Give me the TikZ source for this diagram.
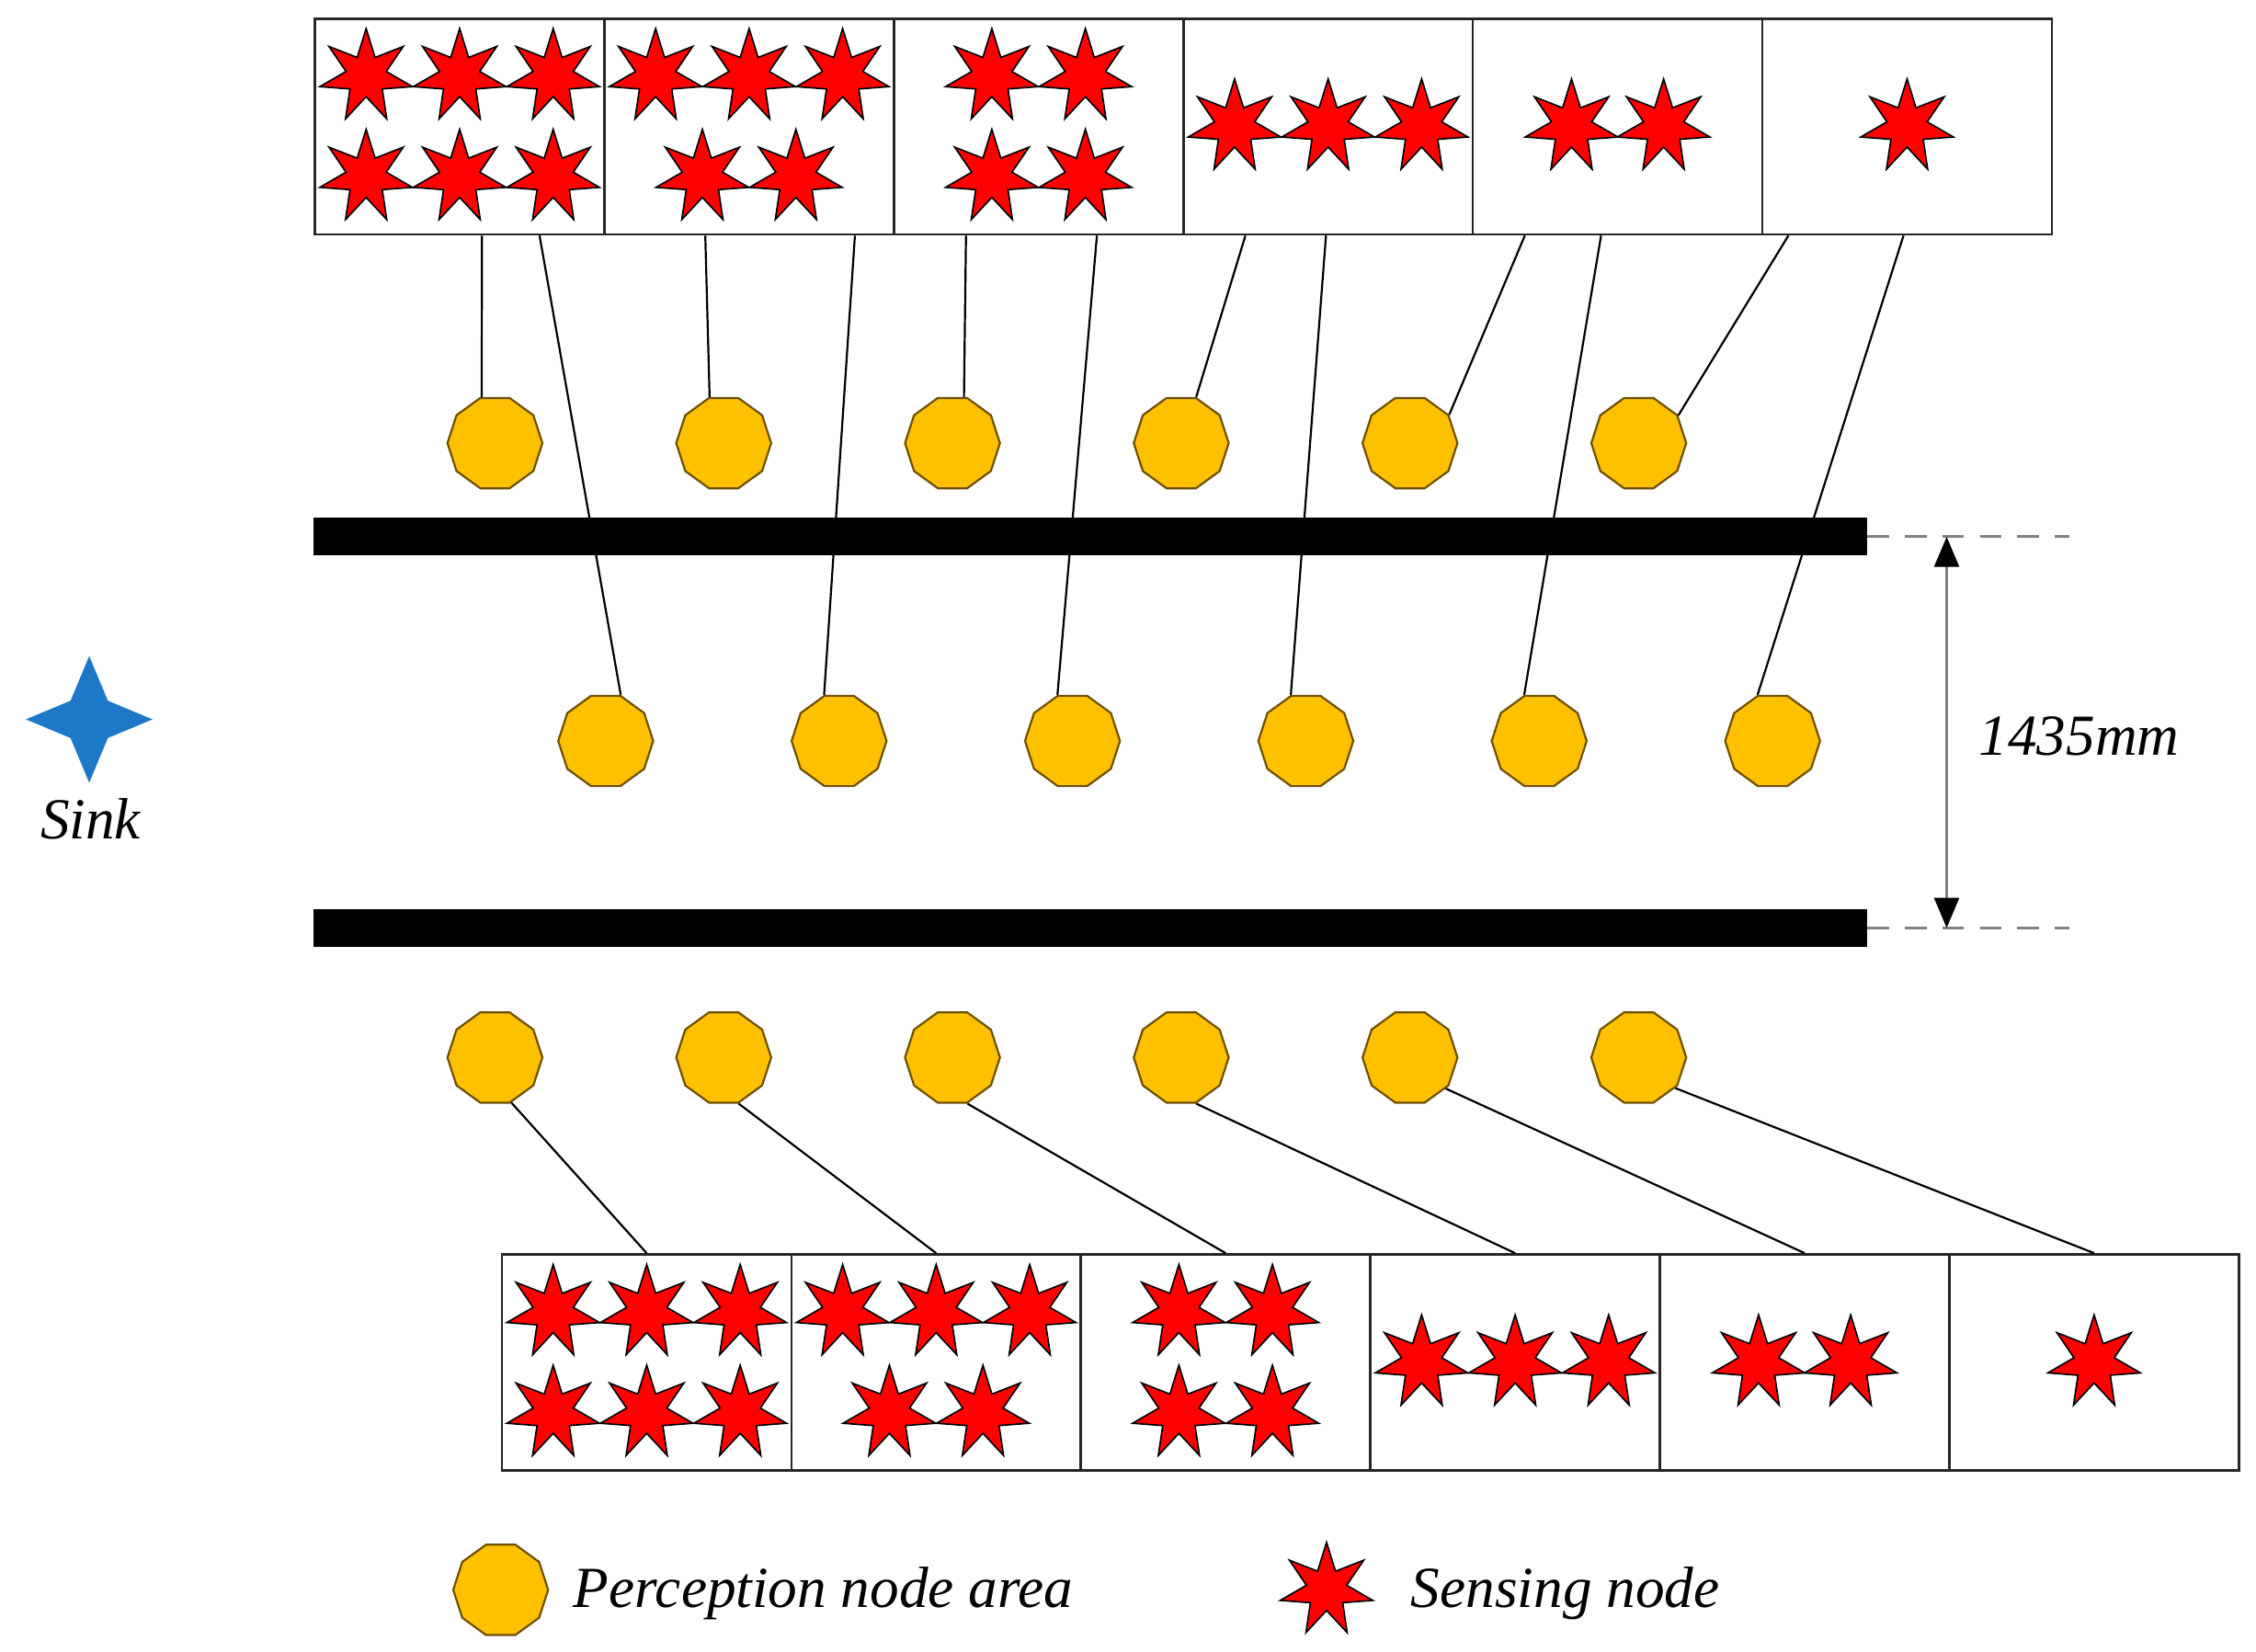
\documentclass[tikz,border=0pt]{standalone}
\usepackage{fontspec}
\setmainfont{Liberation Serif}
\usetikzlibrary{arrows.meta,shapes.geometric}
\definecolor{corange}{RGB}{255,192,0}
\definecolor{cbrun}{RGB}{110,80,0}
\definecolor{crouge}{RGB}{255,0,0}
\definecolor{cbleu}{RGB}{30,120,200}
\definecolor{cgris}{RGB}{128,128,128}
\tikzset{
  boite/.style={draw=black!85, line width=0.5pt, minimum width=20.12mm, minimum height=15mm,
    inner sep=0pt, anchor=north west},
  zone/.style={regular polygon, regular polygon sides=10, minimum size=6.6mm, inner sep=0pt,
    fill=corange, draw=cbrun, line width=0.4pt},
  capteur/.style={star, star points=7, star point ratio=2.3, minimum size=6.6mm, inner sep=0pt,
    fill=crouge, draw=black, line width=0.3pt},
  puits/.style={star, star points=4, star point ratio=2.4, minimum size=8.8mm, inner sep=0pt,
    fill=cbleu},
  lien/.style={black, line width=0.4pt},
  texte/.style={font=\fontsize{11.5}{14}\selectfont\itshape, inner sep=0pt}
}
\begin{document}
\begin{tikzpicture}[x=0.1mm, y=-0.1mm]
\useasboundingbox (0,0) rectangle (1568,1148);
\foreach \i in {1,...,6} {
  \node[boite] (t\i) at ({218+201.2*(\i-1)},12) {};
  \node[boite] (b\i) at ({348+201.2*(\i-1)},871) {};
}
\foreach \r in {t,b}
  \foreach \k/\dx/\dy [count=\n] in {1/-65/-35,1/0/-35,1/65/-35,1/-65/35,1/0/35,1/65/35,
      2/-65/-35,2/0/-35,2/65/-35,2/-32.5/35,2/32.5/35,
      3/-32.5/-35,3/32.5/-35,3/-32.5/35,3/32.5/35,
      4/-65/0,4/0/0,4/65/0,5/-32/0,5/32/0,6/0/0}
    \node[capteur] (\r s\n) at ([shift={(\dx,\dy)}]\r\k.center) {};
\foreach \i in {1,...,6} {
  \node[zone] (u\i) at ({344+159*(\i-1)},308) {};
  \node[zone] (m\i) at ({421+162.2*(\i-1)},515) {};
  \node[zone] (l\i) at ({344+159*(\i-1)},735) {};
}
\foreach \i/\a/\pa/\b/\pb in {1/117/106/157/72,2/71/107/175/108,3/51/76/142/108,
    4/44/72/100/108,5/37/36/90/108,6/19/35/99/108}
  \draw[lien] ([shift={(\a,0)}]t\i.south west) -- (u\i.\pa)
              ([shift={(\b,0)}]t\i.south west) -- (m\i.\pb);
\foreach \i/\pa in {1/-70,2/-72,3/-72,4/-72,5/-41,6/-40}
  \draw[lien] (l\i.\pa) -- (b\i.north);
\fill (218,360) rectangle (1298,386);
\fill (218,632) rectangle (1298,658);
\coordinate (c1) at (1353,373); \coordinate (c2) at (1353,645);
\draw[cgris, line width=0.5pt, dash pattern=on 1.5mm off 1.1mm] (1298,373) -- (1438,373);
\draw[cgris, line width=0.5pt, dash pattern=on 1.5mm off 1.1mm] (1298,645) -- (1438,645);
\draw[cgris, line width=0.7pt, {Triangle[length=2.1mm,width=1.7mm,color=black]}-{Triangle[length=2.1mm,width=1.7mm,color=black]}] (c1) -- (c2);
\node[texte, anchor=base] (ecart) at (1445,525) {1435mm};
\node[puits] (sink) at (62,500) {};
\node[texte, anchor=base] (lsink) at (63,583) {Sink};
\node[zone] (legz) at (348,1105) {};
\node[texte, anchor=base west] (legzt) at (398,1117) {Perception node area};
\node[capteur] (legs) at (922,1105) {};
\node[texte, anchor=base west] (legst) at (980,1117) {Sensing node};
\end{tikzpicture}
\end{document}
